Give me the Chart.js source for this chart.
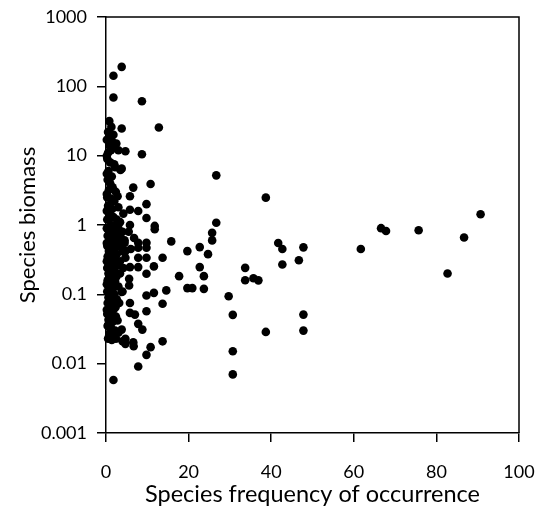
<!DOCTYPE html>
<html>
<head>
<meta charset="utf-8">
<script src="https://cdn.jsdelivr.net/npm/chart.js@4/dist/chart.umd.min.js"></script>
<style>
html,body{margin:0;padding:0;background:#fff;}
#wrap{width:546px;height:521px;position:relative;}
</style>
</head>
<body>
<div id="wrap"><canvas id="c" width="546" height="521"></canvas></div>
<script>
// Species frequency of occurrence (x)
const freq = [
3.8,1.8,1.8,8.7,0.8,3.8,12.8,4.7,8.7,26.7,3.8,6.6,10.8,5.8,9.8,7.8,5.8,4.2,9.8,11.8,11.8,5.8,26.7,25.7,25.7,15.8,
22.7,19.7,24.7,13.7,11.6,22.7,9.8,17.7,23.7,19.7,20.9,23.7,14.6,11.6,9.8,13.7,5.8,9.8,5.8,7.0,7.8,8.8,3.8,4.7,4.7,6.6,6.7,13.7,10.8,9.8,7.8,1.8,
38.7,33.7,33.7,35.7,36.9,29.7,30.7,30.7,30.7,38.7,41.7,42.7,42.7,47.8,46.7,47.8,47.8,61.7,66.6,67.8,75.7,86.7,90.7,82.7,
7.8,9.8,7.8,9.8,7.8,9.8,4.7,4.7,5.8,7.8,5.6,5.6,3.8,5.5,6.8,4.5,6.0,
0.5,1.0,1.5,0.8,2.0,1.2,0.5,2.5,3.0,1.8,0.3,1.0,2.0,0.6,1.4,2.2,3.5,0.4,1.0,0.7,1.6,2.4,0.3,1.2,2.0,2.8,0.5,1.5,3.0,0.8,1.8,2.6,3.4,0.3,1.2,2.2,0.6,1.6,3.0,4.0,
0.4,1.2,2.4,3.6,0.8,1.8,2.8,4.5,0.3,1.1,2.0,3.2,0.7,1.5,2.6,4.0,0.4,1.2,2.2,3.4,0.8,1.8,2.8,0.3,1.1,2.0,4.2,0.6,1.5,2.5,3.4,0.4,1.2,2.2,0.8,1.8,3.0,0.3,1.1,2.0,4.0,
0.6,1.5,2.6,0.4,1.2,2.2,3.2,0.8,1.8,0.3,1.1,2.4,0.6,1.6,2.8,0.4,1.2,2.2,0.8,1.8,3.0,0.5,1.4,2.4,4.0,
0.2,0.2,0.2,0.2,0.2,0.2,0.2,0.2,0.2,0.2,1.0,1.3,0.9,0.5,1.7,2.3,1.3,0.9
];
// Species biomass (y)
const biomass = [
191,142,69,61,31.5,24.7,25.5,11.6,10.5,5.2,6.5,3.46,3.9,2.6,2.0,1.59,1.66,1.46,1.26,0.97,0.87,1.0,1.08,0.77,0.60,0.58,
0.48,0.42,0.38,0.337,0.253,0.247,0.198,0.183,0.183,0.123,0.123,0.12,0.114,0.105,0.096,0.073,0.075,0.057,0.054,0.051,0.0375,0.031,0.031,0.0228,0.0193,0.0204,0.0178,0.021,0.0173,0.0134,0.0091,0.0058,
2.48,0.241,0.16,0.171,0.159,0.094,0.0506,0.0151,0.007,0.0287,0.55,0.45,0.27,0.476,0.31,0.051,0.030,0.45,0.90,0.82,0.84,0.66,1.43,0.20,
0.555,0.555,0.47,0.47,0.337,0.337,0.42,0.337,0.247,0.247,0.168,0.134,0.108,0.8,0.65,0.55,0.45,
22,18,16,14,13,12,11,15,12,20,9,8,7.5,6,5,6.8,6.2,4.5,4,3.2,3.5,3,2.5,2.4,2.2,2.6,1.9,1.7,1.8,1.45,1.3,1.2,1.1,1.2,1.0,0.95,0.85,0.8,0.9,0.8,
0.7,0.68,0.72,0.65,0.6,0.58,0.55,0.6,0.5,0.48,0.46,0.5,0.42,0.4,0.38,0.42,0.35,0.33,0.32,0.3,0.28,0.27,0.26,0.24,0.23,0.22,0.24,0.2,0.19,0.18,0.2,0.16,0.15,0.155,0.13,0.125,0.13,0.11,0.105,0.1,0.11,
0.09,0.088,0.085,0.075,0.072,0.07,0.075,0.062,0.06,0.052,0.05,0.048,0.043,0.04,0.042,0.035,0.033,0.03,0.027,0.026,0.028,0.023,0.022,0.023,0.021,
17,10,5.5,2.8,1.6,0.9,0.55,0.3,0.14,0.06,0.025,26,0.033,0.036,0.045,0.065,0.16,0.28
];
const xTickValues = [0,20,40,60,80,100];
const yTickValues = [0.001,0.01,0.1,1,10,100,1000];
const yTickLabels = ['0.001','0.01','0.1','1','10','100','1000'];
const xTitle = 'Species frequency of occurrence';
const yTitle = 'Species biomass';

const points = freq.map((x,i)=>({x:x, y:biomass[i]}));
const FONT = "Lato, 'Open Sans', sans-serif";

const frame = {
  id:'frame',
  afterDatasetsDraw(chart){
    const {ctx, chartArea:a} = chart;
    ctx.save();
    ctx.strokeStyle = '#000';
    ctx.lineWidth = 1.5;
    ctx.beginPath();
    ctx.moveTo(a.left, a.top);
    ctx.lineTo(a.right, a.top);
    ctx.lineTo(a.right, a.bottom);
    ctx.stroke();
    ctx.restore();
  }
};

new Chart(document.getElementById('c'), {
  type:'scatter',
  data:{datasets:[{
    data:points,
    backgroundColor:'#000',
    borderColor:'#000',
    borderWidth:0,
    pointRadius:4.3,
    pointHoverRadius:4.3,
    clip:false
  }]},
  options:{
    responsive:false,
    animation:false,
    events:[],
    layout:{padding:{left:0,top:17,right:27,bottom:0}},
    plugins:{legend:{display:false},tooltip:{enabled:false}},
    scales:{
      x:{
        type:'linear', min:0, max:100,
        afterBuildTicks(s){ s.ticks = xTickValues.map(v=>({value:v})); },
        afterFit(s){ s.height = 88; s.paddingLeft = 0; s.paddingRight = 0; },
        ticks:{color:'#000', font:{family:FONT,size:18}, padding:19, maxRotation:0},
        grid:{drawOnChartArea:false, drawTicks:true, tickLength:9, color:'#000', lineWidth:1.5},
        border:{display:true, color:'#000', width:1.5},
        title:{display:true, text:xTitle, color:'#000', font:{family:FONT,size:23.5}, padding:{top:0,bottom:12}}
      },
      y:{
        type:'logarithmic', min:0.001, max:1000,
        afterBuildTicks(s){ s.ticks = yTickValues.map(v=>({value:v})); },
        afterFit(s){ s.width = 106; s.paddingTop = 0; s.paddingBottom = 0; },
        ticks:{color:'#000', font:{family:FONT,size:18}, padding:10,
          callback:(v)=>{ const i = yTickValues.findIndex(t=>Math.abs(Math.log10(t)-Math.log10(v))<1e-6); return i>=0 ? yTickLabels[i] : ''; }},
        grid:{drawOnChartArea:false, drawTicks:true, tickLength:9, color:'#000', lineWidth:1.5},
        border:{display:true, color:'#000', width:1.5},
        title:{display:true, text:yTitle, color:'#000', font:{family:FONT,size:22}, padding:{top:15,bottom:0}}
      }
    }
  },
  plugins:[frame]
});
</script>
</body>
</html>
